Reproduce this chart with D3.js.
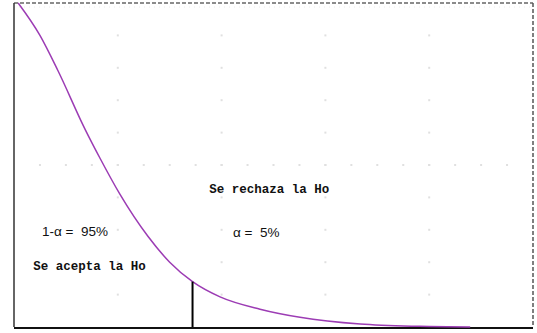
<!DOCTYPE html>
<html>
<head>
<meta charset="utf-8">
<script src="https://cdn.jsdelivr.net/npm/d3@7"></script>
<style>
  body { margin: 0; background: #fff; }
</style>
</head>
<body>
<script>
const WIDTH = 537;
const HEIGHT = 333;
const MARGIN = { top: 3, right: 4, bottom: 6, left: 14 };

// curve (x in z-like units, y as share of the frame height)
const curveX = [0.08, 0.50, 0.85, 1.37, 1.66, 2.04, 2.58, 3.00, 3.44, 3.97, 4.74, 5.51, 6.67, 7.82, 8.79];
const curveY = [1.00, 0.90, 0.79, 0.61, 0.52, 0.41, 0.28, 0.20, 0.14, 0.093, 0.055, 0.03, 0.009, 0.002, 0.0];

const critico = 3.44;
const gridCols = [2, 4, 6, 8];
const gridRows = [0.1, 0.2, 0.3, 0.4, 0.5, 0.6, 0.7, 0.8, 0.9];
const filaPuntos = [0.5, 1, 1.5, 2, 2.5, 3, 3.5, 4, 4.5, 5, 5.5, 6, 6.5, 7, 7.5, 8, 8.5, 9, 9.5];

const etiquetas = [
    { texto: "Se rechaza la Ho", x: 3.76, y: 0.415, mono: true },
    { texto: "1-α =  95%", x: 0.54, y: 0.28, mono: false },
    { texto: "α =  5%", x: 4.22, y: 0.278, mono: false },
    { texto: "Se acepta la Ho", x: 0.37, y: 0.176, mono: true },
];

const svg = d3.select("body")
    .append("svg")
    .attr("width", WIDTH)
    .attr("height", HEIGHT)
    .style("display", "block")

const x = d3.scaleLinear()
    .domain([0, 10])
    .range([MARGIN.left, WIDTH - MARGIN.right]);

const y = d3.scaleLinear()
    .domain([0, 1])
    .range([HEIGHT - MARGIN.bottom, MARGIN.top]);

// faint dotted grid
const grid = svg.append("g").attr("fill", "#e0e0e0");
gridCols.forEach(c => {
    grid.selectAll(null)
        .data(gridRows)
        .join("rect")
        .attr("x", x(c) - 1)
        .attr("y", d => y(d) - 1)
        .attr("width", 2)
        .attr("height", 2)
});
grid.selectAll(null)
    .data(filaPuntos)
    .join("rect")
    .attr("x", d => x(d) - 1)
    .attr("y", y(0.5) - 1)
    .attr("width", 2)
    .attr("height", 2)

svg.append("line")
    .attr("x1", x(0)).attr("x2", x(10))
    .attr("y1", y(1) + 4).attr("y2", y(1) + 4)
    .attr("stroke", "#ececec")
    .attr("stroke-dasharray", "1 4")

// frame
const frame = svg.append("g").attr("fill", "none");
frame.append("line")
    .attr("x1", x(0)).attr("x2", x(10))
    .attr("y1", y(1)).attr("y2", y(1))
    .attr("stroke", "#666")
    .attr("stroke-width", 1.5)
    .attr("stroke-dasharray", "4 2")
frame.append("line")
    .attr("x1", x(10)).attr("x2", x(10))
    .attr("y1", y(1)).attr("y2", y(0))
    .attr("stroke", "#555")
    .attr("stroke-width", 1.5)
    .attr("stroke-dasharray", "4 2")
frame.append("line")
    .attr("x1", x(0)).attr("x2", x(0))
    .attr("y1", y(1)).attr("y2", y(0))
    .attr("stroke", "#333")
    .attr("stroke-width", 1.5)
frame.append("line")
    .attr("x1", x(0)).attr("x2", x(10))
    .attr("y1", y(0) + 1).attr("y2", y(0) + 1)
    .attr("stroke", "#111")
    .attr("stroke-width", 2)

// density curve
const puntos = curveX.map((d, i) => [d, curveY[i]]);
svg.append("path")
    .datum(puntos)
    .attr("d", d3.line().x(d => x(d[0])).y(d => y(d[1])).curve(d3.curveMonotoneX))
    .attr("fill", "none")
    .attr("stroke", "#9c3cb4")
    .attr("stroke-width", 1.5)

// critical value line
svg.append("line")
    .attr("x1", x(critico)).attr("x2", x(critico))
    .attr("y1", y(curveY[curveX.indexOf(critico)]))
    .attr("y2", y(0))
    .attr("stroke", "#000")
    .attr("stroke-width", 2)

svg.selectAll("text.etq")
    .data(etiquetas)
    .join("text")
    .attr("class", "etq")
    .attr("x", d => x(d.x))
    .attr("y", d => y(d.y))
    .attr("font-family", d => d.mono ? "'Liberation Mono', monospace" : "'Liberation Sans', Arial, sans-serif")
    .attr("font-size", d => d.mono ? 12.5 : 13.5)
    .attr("font-weight", d => d.mono ? "bold" : "normal")
    .attr("fill", "#111")
    .style("white-space", "pre")
    .text(d => d.texto)
</script>
</body>
</html>
